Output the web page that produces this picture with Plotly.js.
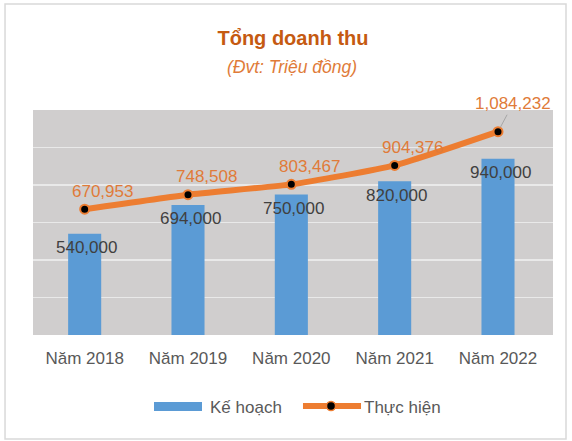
<!DOCTYPE html>
<html>
<head>
<meta charset="utf-8">
<script src="https://cdn.plot.ly/plotly-3.0.1.min.js"></script>
<style>
  html, body { margin: 0; padding: 0; background: #fff; }
  #chart { width: 572px; height: 441px; }
</style>
</head>
<body>
<div id="chart"></div>
<script>
// Dữ liệu doanh thu (triệu đồng)
const years = ['Năm 2018', 'Năm 2019', 'Năm 2020', 'Năm 2021', 'Năm 2022'];
const keHoach = [540000, 694000, 750000, 820000, 940000];
const thucHien = [670953, 748508, 803467, 904376, 1084232];

const fmt = v => v.toLocaleString('en-US');
const font = 'Liberation Sans, Arial, sans-serif';
const cam = '#E07B39';

const data = [
    {
        x: years,
        y: keHoach,
        name: 'Kế hoạch',
        type: 'bar',
        width: 0.32,
        marker: { color: '#5B9BD5' },
        hoverinfo: 'none'
    },
    {
        x: years,
        y: thucHien,
        name: 'Thực hiện',
        type: 'scatter',
        mode: 'lines+markers',
        line: { color: '#ED7D31', width: 6, shape: 'spline', smoothing: 0.5 },
        marker: { color: '#000000', size: 9, line: { color: '#ED7D31', width: 2 } },
        hoverinfo: 'none'
    }
];

// Nhãn giá trị
const annotations = [];
keHoach.forEach((v, i) => {
    annotations.push({
        x: years[i], y: v, text: fmt(v), showarrow: false,
        yshift: -14, xshift: 2,
        font: { family: font, size: 17, color: '#404040' }
    });
});
thucHien.forEach((v, i) => {
    const last = i === thucHien.length - 1;
    annotations.push(last ? {
        x: years[i], y: v, text: fmt(v), showarrow: true,
        arrowhead: 0, arrowwidth: 1, arrowcolor: '#a6a6a6',
        ax: 15, ay: -28, standoff: 5,
        font: { family: font, size: 17, color: cam }
    } : {
        x: years[i], y: v, text: fmt(v), showarrow: false,
        yshift: 18, xshift: 18,
        font: { family: font, size: 17, color: cam }
    });
});
// Phụ đề
annotations.push({
    xref: 'paper', yref: 'paper', x: 0.499, y: 1.191, yanchor: 'middle',
    text: '<i>(Đvt: Triệu đồng)</i>', showarrow: false,
    font: { family: font, size: 17.5, color: cam }
});
// Chú thích (legend) tự vẽ
annotations.push(
    { xref: 'paper', yref: 'paper', x: 0.3365, y: -0.32, xanchor: 'left', yanchor: 'middle',
      text: 'Kế hoạch', showarrow: false, font: { family: font, size: 17, color: '#595959' } },
    { xref: 'paper', yref: 'paper', x: 0.6327, y: -0.32, xanchor: 'left', yanchor: 'middle',
      text: 'Thực hiện', showarrow: false, font: { family: font, size: 17, color: '#595959' } }
);

const layout = {
    width: 572,
    height: 441,
    title: {
        text: '<b>Tổng doanh thu</b>',
        font: { family: font, size: 20, color: '#C55A11' },
        x: 0.5, xref: 'paper',
        y: 1 - 38 / 441, yref: 'container', yanchor: 'middle'
    },
    margin: { l: 33, r: 19, t: 110, b: 106 },
    paper_bgcolor: '#ffffff',
    plot_bgcolor: '#D0CECE',
    font: { family: font, size: 17, color: '#595959' },
    xaxis: {
        type: 'category',
        showgrid: false,
        zeroline: false,
        showline: false,
        ticks: '',
        ticklabelstandoff: 11,
        tickfont: { family: font, size: 17, color: '#595959' }
    },
    yaxis: {
        range: [0, 1200000],
        dtick: 200000,
        showticklabels: false,
        showgrid: true,
        gridcolor: '#e9e9e9',
        gridwidth: 1.5,
        zeroline: false,
        ticks: ''
    },
    showlegend: false,
    annotations: annotations,
    shapes: [
        // khung ngoài
        { type: 'rect', xref: 'paper', yref: 'paper',
          x0: -0.0538, x1: 1.025, y0: -0.462, y1: 1.471,
          line: { color: '#d9d9d9', width: 1.5 }, layer: 'below' },
        // ký hiệu Kế hoạch
        { type: 'rect', xref: 'paper', yref: 'paper',
          x0: 0.2327, x1: 0.325, y0: -0.3378, y1: -0.2978,
          fillcolor: '#5B9BD5', line: { width: 0 } },
        // ký hiệu Thực hiện
        { type: 'line', xref: 'paper', yref: 'paper',
          x0: 0.5192, x1: 0.6308, y0: -0.3156, y1: -0.3156,
          line: { color: '#ED7D31', width: 6 } },
        { type: 'circle', xref: 'paper', yref: 'paper',
          x0: 0.5731 - 0.0087, x1: 0.5731 + 0.0087, y0: -0.3156 - 0.02, y1: -0.3156 + 0.02,
          fillcolor: '#000000', line: { color: '#ED7D31', width: 1.5 } }
    ]
};

Plotly.newPlot('chart', data, layout, { displayModeBar: false, staticPlot: true });
</script>
</body>
</html>
